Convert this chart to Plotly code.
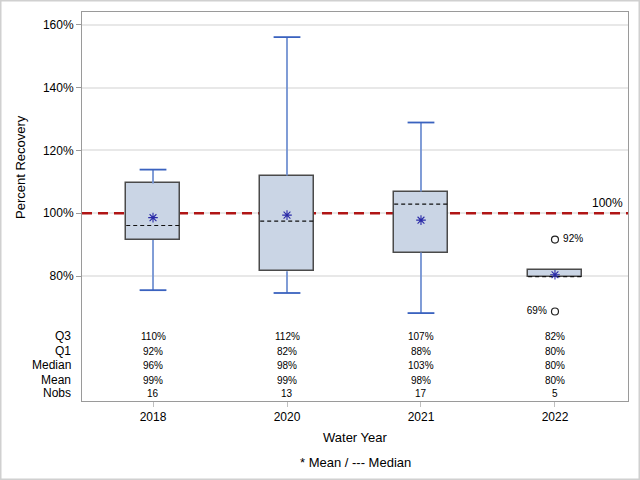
import plotly.graph_objects as go

years = ["2018", "2020", "2021", "2022"]
q1 = [91.5, 81.5, 87.5, 79.6]
q3 = [109.5, 112.0, 106.9, 82.0]
median = [96.1, 97.5, 102.9, 79.8]
mean = [98.6, 99.4, 97.8, 80.4]
whisk_low = [75.5, 74.6, 68.2, 79.6]
whisk_high = [113.9, 156.1, 128.9, 82.0]
outlier_year_idx = [3, 3]
outlier_vals = [91.6, 68.7]
outlier_labels = ["92%", "69%"]
outlier_textpos = ["middle right", "middle left"]

table_rows = ["Q3", "Q1", "Median", "Mean", "Nobs"]
table_q3 = ["110%", "112%", "107%", "82%"]
table_q1 = ["92%", "82%", "88%", "80%"]
table_median = ["96%", "98%", "103%", "80%"]
table_mean = ["99%", "99%", "98%", "80%"]
table_nobs = ["16", "13", "17", "5"]
ref_value = 100
y_ticks = [80, 100, 120, 140, 160]

FONT = "Liberation Sans, Arial, sans-serif"
pos = list(range(len(years)))
BOX_W = 0.4
CAP_W = 0.2

fig = go.Figure()

# whiskers
wx, wy, cx, cy = [], [], [], []
for i in pos:
    if whisk_high[i] > q3[i]:
        wx += [i, i, None]; wy += [q3[i], whisk_high[i], None]
        cx += [i - CAP_W / 2, i + CAP_W / 2, None]; cy += [whisk_high[i], whisk_high[i], None]
    if whisk_low[i] < q1[i]:
        wx += [i, i, None]; wy += [q1[i], whisk_low[i], None]
        cx += [i - CAP_W / 2, i + CAP_W / 2, None]; cy += [whisk_low[i], whisk_low[i], None]
fig.add_trace(go.Scatter(x=wx, y=wy, mode="lines", line=dict(color="#7392d2", width=1.8),
                         showlegend=False, hoverinfo="skip"))
fig.add_trace(go.Scatter(x=cx, y=cy, mode="lines", line=dict(color="#3a62bf", width=1.8),
                         showlegend=False, hoverinfo="skip"))

# boxes
fig.add_trace(go.Bar(x=pos, y=[q3[i] - q1[i] for i in pos], base=q1, width=BOX_W,
                     marker=dict(color="#cad5e5", line=dict(color="#4a4a4a", width=1.5)),
                     showlegend=False, hoverinfo="skip"))

# medians
mx, my = [], []
for i in pos:
    mx += [i - BOX_W / 2, i + BOX_W / 2, None]; my += [median[i], median[i], None]
fig.add_trace(go.Scatter(x=mx, y=my, mode="lines", line=dict(color="#111111", width=1.1, dash="4px,3px"),
                         showlegend=False, hoverinfo="skip"))

# means
fig.add_trace(go.Scatter(x=pos, y=mean, mode="markers",
                         marker=dict(symbol="asterisk-open", size=8, color="#2a2aa8",
                                     line=dict(color="#2a2aa8", width=1.1)),
                         showlegend=False, hoverinfo="skip"))

# outliers
fig.add_trace(go.Scatter(x=outlier_year_idx, y=outlier_vals, mode="markers+text",
                         text=[" " + t + " " for t in outlier_labels], textposition=outlier_textpos,
                         textfont=dict(family=FONT, size=10, color="#000000"),
                         marker=dict(symbol="circle-open", size=7, color="#222222",
                                     line=dict(color="#222222", width=1.2)),
                         showlegend=False, hoverinfo="skip"))

# reference line (between gridlines and the boxes)
fig.add_shape(type="line", xref="x", x0=-0.53, x1=3.545, yref="y", y0=ref_value, y1=ref_value,
              line=dict(color="#b01515", width=2.5, dash="10px,6px"), layer="between")
fig.add_annotation(text=f"{ref_value}%", xref="paper", x=0.995, xanchor="right",
                   yref="y", y=ref_value, yanchor="bottom", yshift=1, showarrow=False,
                   font=dict(family=FONT, size=12, color="#000000"))

# outer border
PW, PH = 546, 389
fig.add_shape(type="rect", xref="paper", yref="paper",
              x0=-82 / PW, x1=1 + 12 / PW, y0=-79 / PH, y1=1 + 12 / PH,
              line=dict(color="#d0d0d0", width=3), layer="below")

# table
row_y_px = [336, 351, 365, 380, 393]
row_vals = [table_q3, table_q1, table_median, table_mean, table_nobs]
for r, name in enumerate(table_rows):
    py = (401 - row_y_px[r]) / PH
    fig.add_annotation(text=name, xref="paper", x=(73 - 82) / PW, xanchor="right",
                       yref="paper", y=py, yanchor="middle", showarrow=False,
                       font=dict(family=FONT, size=12, color="#000000"))
    for i in pos:
        fig.add_annotation(text=row_vals[r][i], xref="x", x=i, xanchor="center",
                           yref="paper", y=py, yanchor="middle", showarrow=False,
                           font=dict(family=FONT, size=10, color="#000000"))

# titles
fig.add_annotation(text="Percent Recovery", xref="paper", x=(20 - 82) / PW, xanchor="center",
                   yref="paper", y=(401 - 167) / PH, yanchor="middle", textangle=-90,
                   showarrow=False, font=dict(family=FONT, size=13, color="#000000"))
fig.add_annotation(text="Water Year", xref="paper", x=0.5, xanchor="center",
                   yref="paper", y=(401 - 437) / PH, yanchor="middle",
                   showarrow=False, font=dict(family=FONT, size=13, color="#000000"))
fig.add_annotation(text="* Mean / --- Median", xref="paper", x=0.5, xanchor="center",
                   yref="paper", y=(401 - 462) / PH, yanchor="middle",
                   showarrow=False, font=dict(family=FONT, size=13, color="#000000"))

fig.update_layout(
    width=640, height=480,
    margin=dict(l=82, r=12, t=12, b=79),
    paper_bgcolor="white", plot_bgcolor="white",
    font=dict(family=FONT, size=12, color="#000000"),
    bargap=0,
    hovermode=False,
    xaxis=dict(range=[-0.53, 3.545], tickvals=pos, ticktext=years, showgrid=False,
               zeroline=False, showline=True, linecolor="#9a9a9a", linewidth=1, mirror=True,
               ticks="outside", ticklen=5, tickcolor="#c0c0c0",
               tickfont=dict(family=FONT, size=12, color="#000000")),
    yaxis=dict(range=[40.2, 164.1], tickvals=y_ticks, ticktext=[f"{v}%" for v in y_ticks],
               showgrid=True, gridcolor="#e8e8e8", gridwidth=1.5, zeroline=False,
               showline=True, linecolor="#9a9a9a", linewidth=1, mirror=True,
               ticks="outside", ticklen=5, tickcolor="#9a9a9a",
               tickfont=dict(family=FONT, size=12, color="#000000")),
)

fig.write_html("out.html", config={"displayModeBar": False},
               post_script="document.body.style.margin='0px';document.body.style.overflow='hidden';")
